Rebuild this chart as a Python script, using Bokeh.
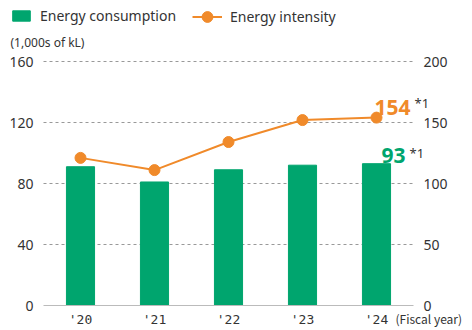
from bokeh.plotting import figure
from bokeh.models import (Range1d, LinearAxis, FixedTicker, Legend, LegendItem,
                          Label, ColumnDataSource)
from bokeh.core.properties import value
from bokeh.embed import file_html
from bokeh.resources import INLINE

years = ["'20", "'21", "'22", "'23", "'24"]
consumption = [91, 81, 89, 92, 93]
intensity = [121, 111, 134, 152, 154]
left_ticks = [0, 40, 80, 120, 160]
right_ticks = [0, 50, 100, 150, 200]

GREEN = "#00a56e"
ORANGE = "#f08a2a"
TXT = "#333333"
FONT = "Noto Sans"
MONO = "DejaVu Sans Mono"
JP = "Noto Sans CJK JP"

W, H = 472, 330
n = len(years)
idx = list(range(n))
# frame spans the canvas; ranges chosen so the plotting area sits at 43..413 x 61..305 px
xr = Range1d(-0.5 - 43 / 74, n - 0.5 + 59 / 74)
yr = Range1d(-25 / 1.525, 160 + 61 / 1.525)
yr2 = Range1d(-25 / 1.22, 200 + 61 / 1.22)

p = figure(width=W, height=H, x_range=xr, y_range=yr, output_backend="svg",
           toolbar_location=None, min_border=0)
p.extra_y_ranges = {"r": yr2}
p.outline_line_color = None
p.background_fill_color = "white"
p.border_fill_color = "white"

src = ColumnDataSource(dict(x=idx, c=consumption, i=intensity))
bars = p.vbar(x="x", top="c", width=0.38, color=GREEN, source=src)
ln = p.line(x="x", y="i", color=ORANGE, line_width=2, y_range_name="r", source=src)
sc = p.scatter(x="x", y="i", size=11, color=ORANGE, y_range_name="r", source=src)

def style_y(ax):
    ax.axis_line_color = None
    ax.major_tick_line_color = None
    ax.minor_tick_line_color = None
    ax.major_tick_out = 0
    ax.major_tick_in = 0
    ax.major_label_standoff = 10
    ax.major_label_text_font = FONT
    ax.major_label_text_font_size = "14px"
    ax.major_label_text_color = TXT

la = p.yaxis[0]
la.ticker = FixedTicker(ticks=left_ticks)
la.fixed_location = -0.5
style_y(la)

ra = LinearAxis(y_range_name="r", ticker=FixedTicker(ticks=right_ticks))
ra.fixed_location = n - 0.5
style_y(ra)
p.add_layout(ra, "right")

xa = p.xaxis[0]
xa.ticker = FixedTicker(ticks=idx)
xa.major_label_overrides = {i: y for i, y in zip(idx, years)}
xa.fixed_location = 0
xa.bounds = (-0.5, n - 0.5)
xa.axis_line_color = "#bbbbbb"
xa.axis_line_width = 1
xa.major_tick_line_color = None
xa.minor_tick_line_color = None
xa.major_tick_out = 0
xa.major_tick_in = 0
xa.major_label_standoff = 6
xa.major_label_text_font = MONO
xa.major_label_text_font_size = "13px"
xa.major_label_text_color = TXT

p.xgrid.grid_line_color = None
p.ygrid.ticker = FixedTicker(ticks=left_ticks[1:])
p.ygrid.grid_line_color = "#999999"
p.ygrid.grid_line_dash = "3 3"
p.ygrid.grid_line_width = 1
p.ygrid.cross_bounds = (-0.5, n - 0.5)

# value labels
last = n - 1
p.text(x=[last], y=[intensity[-1]], text=[str(intensity[-1])], y_range_name="r",
       x_offset=-2, y_offset=-10, text_baseline="alphabetic", text_align="left",
       text_font=value(FONT), text_font_size="21px", text_font_style="bold", text_color=ORANGE)
p.text(x=[last], y=[intensity[-1]], text=["*1"], y_range_name="r",
       x_offset=38, y_offset=-15, text_baseline="alphabetic", text_align="left",
       text_font=value(FONT), text_font_size="13px", text_color=TXT)
p.text(x=[last], y=[consumption[-1]], text=[str(consumption[-1])],
       x_offset=5, y_offset=-8, text_baseline="alphabetic", text_align="left",
       text_font=value(FONT), text_font_size="21px", text_font_style="bold", text_color=GREEN)
p.text(x=[last], y=[consumption[-1]], text=["*1"],
       x_offset=33, y_offset=-11, text_baseline="alphabetic", text_align="left",
       text_font=value(FONT), text_font_size="13px", text_color=TXT)

# unit labels
p.add_layout(Label(x=10, y=H - 42, x_units="screen", y_units="screen", text="(1,000s of kL)",
                   text_baseline="middle", text_font=FONT, text_font_size="12px", text_color=TXT))
p.add_layout(Label(x=395, y=H - 318, x_units="screen", y_units="screen", text="(Fiscal year)",
                   text_baseline="middle", text_font=JP, text_font_size="12px", text_color=TXT))

common = dict(orientation="horizontal", label_standoff=8,
              padding=0, margin=0, border_line_color=None, background_fill_alpha=0,
              label_text_font=FONT, label_text_font_size="14px", label_text_color=TXT,
              label_height=13)
leg1 = Legend(items=[LegendItem(label="Energy consumption", renderers=[bars])],
              location=(10, H - 25), glyph_width=22, glyph_height=13, **common)
leg2 = Legend(items=[LegendItem(label="Energy intensity", renderers=[ln, sc])],
              location=(192, H - 30), glyph_width=30, glyph_height=27, **common)
p.add_layout(leg1, "center")
p.add_layout(leg2, "center")

open("out.html", "w").write(file_html(p, INLINE))
